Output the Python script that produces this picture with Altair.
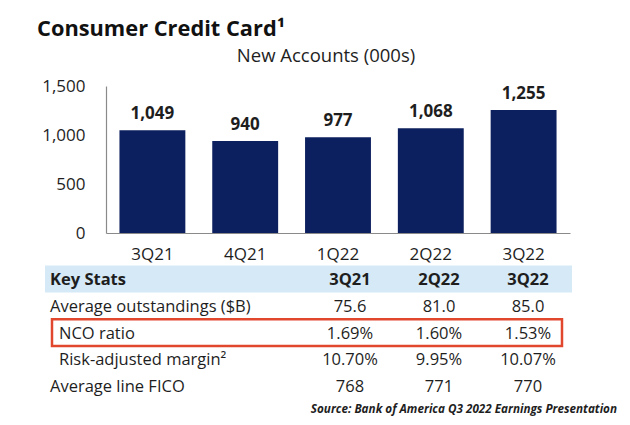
import altair as alt
import pandas as pd

# ---------------- data ----------------
quarters = ["3Q21", "4Q21", "1Q22", "2Q22", "3Q22"]
new_accounts = [1049, 940, 977, 1068, 1255]

header_label = "Key Stats"
stat_columns = ["3Q21", "2Q22", "3Q22"]
stat_rows = ["Average outstandings ($B)", "NCO ratio", "Risk-adjusted margin²", "Average line FICO"]
avg_outstandings = ["75.6", "81.0", "85.0"]
nco_ratio = ["1.69%", "1.60%", "1.53%"]
risk_adj_margin = ["10.70%", "9.95%", "10.07%"]
avg_fico = ["768", "771", "770"]
indented_rows = ["NCO ratio", "Risk-adjusted margin²"]
highlighted_rows = ["NCO ratio"]

title_text = "Consumer Credit Card¹"
subtitle_text = "New Accounts (000s)"
source_text = "Source: Bank of America Q3 2022 Earnings Presentation"

# ---------------- style ----------------
FONT = "Open Sans"
NAVY = "#0c1f5e"
TXT = "#1e1e1e"
GRAY = "#8a8a8a"
LIGHT_BLUE = "#d5e9f7"
RED = "#e0472c"

PLOT_W, PLOT_H = 464, 147
PAD_L, PAD_T = 98, 78
PAD_R = 614 - PAD_L - PLOT_W
PAD_B = 409 - PAD_T - PLOT_H

# ---------------- tables ----------------
bar_df = pd.DataFrame({"quarter": quarters, "accounts": new_accounts})

row_order = [header_label] + stat_rows
row_df = pd.DataFrame({
    "row": row_order,
    "indent": [r in indented_rows for r in row_order],
    "highlight": [r in highlighted_rows for r in row_order],
    "header": [r == header_label for r in row_order],
})

series = [avg_outstandings, nco_ratio, risk_adj_margin, avg_fico]
val_records = []
for r, vals in zip(stat_rows, series):
    for c, v in zip(stat_columns, vals):
        val_records.append({"row": r, "col": c, "text": v})
val_df = pd.DataFrame(val_records)
hdr_df = pd.DataFrame({"row": [header_label] * len(stat_columns), "col": stat_columns, "text": stat_columns})

# ---------------- bar chart ----------------
x_bar = alt.X(
    "quarter:N", sort=quarters,
    scale=alt.Scale(paddingInner=0.29, paddingOuter=0.145),
    axis=alt.Axis(title=None, labelAngle=0, ticks=False, labelPadding=13,
                  labelFontSize=17, labelFont=FONT, labelColor=TXT,
                  domainColor=GRAY, domainWidth=1.2),
)
y_bar = alt.Y(
    "accounts:Q",
    scale=alt.Scale(domain=[0, 1500], nice=False),
    axis=alt.Axis(title=None, values=[0, 500, 1000, 1500], format=",.0f", grid=False,
                  ticks=False, labelPadding=21, labelFontSize=17, labelFont=FONT,
                  labelColor=TXT, domainColor=GRAY, domainWidth=1.2),
)
bars = alt.Chart(bar_df).mark_bar(color=NAVY).encode(x=x_bar, y=y_bar)
bar_labels = alt.Chart(bar_df).mark_text(
    dy=-11, baseline="alphabetic", fontWeight="bold", fontSize=17, font=FONT, color=TXT
).encode(x=x_bar, y=y_bar, text=alt.Text("accounts:Q", format=",.0f"))
bar_layer = alt.layer(bars, bar_labels)

# ---------------- key stats table ----------------
y_row = alt.Y("row:N", scale=alt.Scale(domain=row_order, range=[179.6, 313.6],
                                        paddingInner=0, paddingOuter=0), axis=None)
x_col = alt.X("col:N", scale=alt.Scale(type="point", domain=stat_columns,
                                        range=[244, 422], padding=0), axis=None)

band = alt.Chart(row_df).transform_filter(alt.datum.header).mark_rect(color=LIGHT_BLUE).encode(
    y=y_row, x=alt.value(-61), x2=alt.value(466))
box = alt.Chart(row_df).transform_filter(alt.datum.highlight).mark_rect(
    fillOpacity=0, stroke=RED, strokeWidth=2.5).encode(
    y=y_row, x=alt.value(-54), x2=alt.value(456))

head_label = alt.Chart(row_df).transform_filter(alt.datum.header).mark_text(
    align="left", dy=1, fontSize=16.5, fontWeight="bold", font=FONT, color=TXT).encode(
    y=y_row, x=alt.value(-56), text="row:N")
head_cols = alt.Chart(hdr_df).mark_text(
    align="center", dy=1, fontSize=16.5, fontWeight="bold", font=FONT, color=TXT).encode(
    y=y_row, x=x_col, text="text:N")
labels_main = alt.Chart(row_df).transform_filter(
    "!datum.header && !datum.indent").mark_text(
    align="left", dy=1, fontSize=16.5, font=FONT, color=TXT).encode(
    y=y_row, x=alt.value(-56), text="row:N")
labels_ind = alt.Chart(row_df).transform_filter(alt.datum.indent).mark_text(
    align="left", dy=1, fontSize=16.5, font=FONT, color=TXT).encode(
    y=y_row, x=alt.value(-47), text="row:N")
values = alt.Chart(val_df).mark_text(
    align="center", dy=1, fontSize=16.5, font=FONT, color=TXT).encode(
    y=y_row, x=x_col, text="text:N")

table_layer = alt.layer(band, box, head_label, head_cols, labels_main, labels_ind, values)

# ---------------- headings ----------------
title = alt.Chart(pd.DataFrame({"t": [title_text]})).mark_text(
    align="left", baseline="alphabetic", fontSize=21.8, fontWeight="bold", font=FONT, color="#111"
).encode(text="t:N", x=alt.value(-69), y=alt.value(-50))
subtitle = alt.Chart(pd.DataFrame({"t": [subtitle_text]})).mark_text(
    align="center", baseline="alphabetic", fontSize=18.5, font=FONT, color=TXT
).encode(text="t:N", x=alt.value(220), y=alt.value(-24))
source = alt.Chart(pd.DataFrame({"t": [source_text]})).mark_text(
    align="right", baseline="alphabetic", fontSize=11.7, fontWeight="bold",
    fontStyle="italic", font=FONT, color=TXT
).encode(text="t:N", x=alt.value(511), y=alt.value(327))

chart = alt.layer(bar_layer, table_layer, title, subtitle, source).resolve_scale(
    x="independent", y="independent"
).properties(
    width=PLOT_W, height=PLOT_H,
    padding={"left": PAD_L, "top": PAD_T, "right": PAD_R, "bottom": PAD_B},
    autosize=alt.AutoSizeParams(type="none"),
    background="white",
).configure_view(stroke=None)

chart.save("out.html", embed_options={"renderer": "svg", "actions": False})
